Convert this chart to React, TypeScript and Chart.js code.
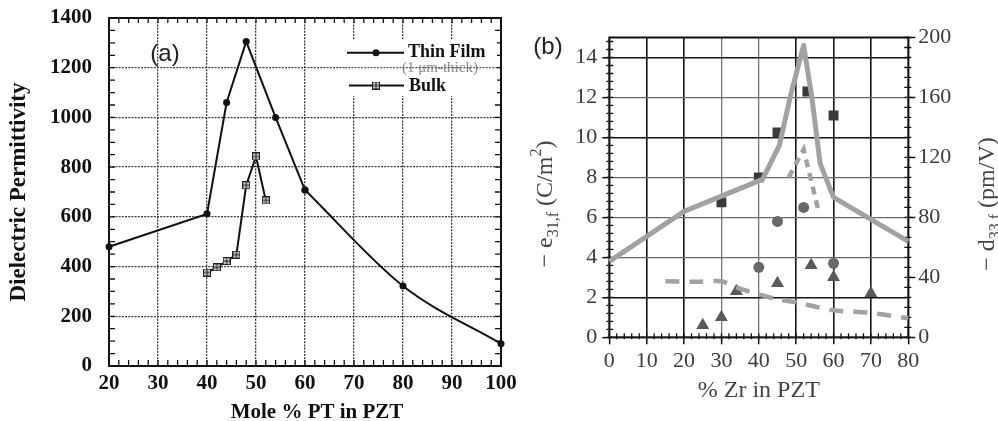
import React, { useEffect, useRef } from "react";
import { Chart, registerables } from "chart.js";
Chart.register(...registerables);

// ---------- Panel (a): Dielectric permittivity vs mole % PT ----------
const thinFilmX = [20, 40, 44, 48, 54, 60];
const thinFilmY = [480, 612, 1060, 1305, 1000, 708];
const thinFilmTailX = [60, 80, 100];
const thinFilmTailY = [708, 322, 90];
const bulkX = [40, 42, 44, 46, 48, 50, 52];
const bulkY = [376, 397, 422, 448, 727, 843, 666];

// ---------- Panel (b): piezo coefficients vs % Zr ----------
const zrSolidX = [0, 20, 41, 45.5, 48.5, 52, 54.2, 56.4, 60, 80];
const zrSolidY = [3.8, 6.3, 7.9, 9.6, 12.1, 14.6, 12.0, 8.7, 7.0, 4.8];
const zrDashUpX = [48, 52, 56];
const zrDashUpY = [8.0, 9.4, 6.3];
const zrDashLowX = [15, 24, 30, 34, 39, 45, 50, 60, 70, 80];
const zrDashLowY = [2.8, 2.78, 2.8, 2.5, 2.2, 1.9, 1.75, 1.35, 1.22, 0.95];
const squareX = [30, 40, 45, 53, 60];
const squareY = [6.75, 8.0, 10.25, 12.3, 11.1];
const circleX = [40, 45, 52, 60];
const circleY = [3.5, 5.8, 6.5, 3.7];
const triX = [25, 30, 34, 45, 54, 60, 70];
const triY = [0.6, 1.0, 2.3, 2.7, 3.6, 3.0, 2.2];

const pts = (xs: number[], ys: number[]) => xs.map((x, i) => ({ x, y: ys[i] }));

function makeBulkMarker() {
  const c = document.createElement("canvas");
  c.width = 8;
  c.height = 8;
  const g = c.getContext("2d")!;
  g.fillStyle = "#c4c4c4";
  g.fillRect(0.5, 0.5, 7, 7);
  g.strokeStyle = "#222";
  g.lineWidth = 1;
  g.strokeRect(0.5, 0.5, 7, 7);
  g.beginPath();
  g.moveTo(4, 0.5);
  g.lineTo(4, 7.5);
  g.moveTo(0.5, 4);
  g.lineTo(7.5, 4);
  g.stroke();
  return c;
}

function drawRich(ctx: CanvasRenderingContext2D, parts: any[], cx: number, cy: number, base: number, family: string, color: string) {
  ctx.save();
  ctx.translate(cx, cy);
  ctx.rotate(-Math.PI / 2);
  ctx.fillStyle = color;
  ctx.textBaseline = "alphabetic";
  ctx.textAlign = "left";
  let total = 0;
  for (const p of parts) {
    ctx.font = `${p.size}px ${family}`;
    total += ctx.measureText(p.text).width;
  }
  let x = -total / 2;
  const by = base * 0.33;
  for (const p of parts) {
    ctx.font = `${p.size}px ${family}`;
    ctx.fillText(p.text, x, by + (p.dy || 0));
    x += ctx.measureText(p.text).width;
  }
  ctx.restore();
}

export default function App() {
  const refA = useRef<HTMLCanvasElement>(null);
  const refB = useRef<HTMLCanvasElement>(null);

  useEffect(() => {
    document.body.style.margin = "0";
    document.body.style.overflow = "hidden";
    const marker = makeBulkMarker();

    const serifBold = (size: number, lh = 1.2) => ({ family: "'Liberation Serif', serif", weight: "bold" as const, size, lineHeight: lh });
    const serif = (size: number, lh = 1.2) => ({ family: "'Liberation Serif', serif", size, lineHeight: lh });
    const plain = (v: any) => String(v);

    const aPlugin = {
      id: "aDecor",
      beforeDatasetsDraw(chart: any) {
        const { ctx, chartArea: ca, scales } = chart;
        ctx.save();
        ctx.strokeStyle = "#111";
        ctx.lineWidth = 1.3;
        ctx.beginPath();
        for (let v = 0; v <= 1400; v += 50) {
          const y = scales.y.getPixelForValue(v);
          ctx.moveTo(ca.left, y);
          ctx.lineTo(ca.left + 6, y);
          ctx.moveTo(ca.right, y);
          ctx.lineTo(ca.right - 6, y);
        }
        for (let v = 20; v <= 100; v += 2) {
          const x = scales.x.getPixelForValue(v);
          ctx.moveTo(x, ca.bottom);
          ctx.lineTo(x, ca.bottom - 6);
          ctx.moveTo(x, ca.top);
          ctx.lineTo(x, ca.top + 5);
        }
        ctx.stroke();
        ctx.lineWidth = 2;
        ctx.strokeRect(ca.left, ca.top, ca.right - ca.left, ca.bottom - ca.top);
        ctx.restore();
      },
      afterDraw(chart: any) {
        const { ctx } = chart;
        ctx.save();
        ctx.fillStyle = "#ffffff";
        ctx.fillRect(345, 40, 152, 56);
        ctx.strokeStyle = "#111";
        ctx.fillStyle = "#111";
        ctx.lineWidth = 2;
        ctx.beginPath();
        ctx.moveTo(347, 52.7);
        ctx.lineTo(404, 52.7);
        ctx.moveTo(349, 85.5);
        ctx.lineTo(404, 85.5);
        ctx.stroke();
        ctx.beginPath();
        ctx.arc(376, 52.7, 3.5, 0, Math.PI * 2);
        ctx.fill();
        ctx.drawImage(marker, 376 - 4, 85.5 - 4);
        ctx.textBaseline = "middle";
        ctx.textAlign = "left";
        ctx.font = "bold 18px 'Liberation Serif', serif";
        ctx.fillText("Thin Film", 408, 52.5);
        ctx.fillText("Bulk", 409, 86);
        ctx.fillStyle = "#8a8a8a";
        ctx.font = "15px 'Liberation Serif', serif";
        ctx.fillText("(1 μm-thick)", 402, 68);
        ctx.strokeStyle = "#555";
        ctx.lineWidth = 1.3;
        ctx.setLineDash([2, 1.2]);
        ctx.beginPath();
        ctx.moveTo(345, 67.7);
        ctx.lineTo(497, 67.7);
        ctx.stroke();
        ctx.setLineDash([]);
        ctx.fillStyle = "#222";
        ctx.textAlign = "center";
        ctx.font = "24px 'Liberation Sans', sans-serif";
        ctx.fillText("(a)", 165, 54);
        // x-axis title (offset to the right as in the original)
        ctx.fillStyle = "#111";
        ctx.font = "bold 21px 'Liberation Serif', serif";
        ctx.fillText("Mole % PT in PZT", 317, 413);
        ctx.restore();
      },
    };

    const chartA = new Chart(refA.current!, {
      type: "scatter",
      data: {
        datasets: [
          {
            label: "Thin Film",
            data: pts(thinFilmX, thinFilmY),
            showLine: true,
            borderColor: "#111",
            backgroundColor: "#111",
            borderWidth: 2,
            pointRadius: 3.5,
            pointBorderWidth: 0,
            tension: 0,
            clip: false,
          },
          {
            label: "Thin Film tail",
            data: pts(thinFilmTailX, thinFilmTailY),
            showLine: true,
            borderColor: "#111",
            backgroundColor: "#111",
            borderWidth: 2,
            pointRadius: 3.5,
            pointBorderWidth: 0,
            cubicInterpolationMode: "monotone",
            clip: false,
          },
          {
            label: "Bulk",
            data: pts(bulkX, bulkY),
            showLine: true,
            borderColor: "#111",
            borderWidth: 2,
            pointStyle: marker as any,
            pointRadius: 4,
            tension: 0,
            clip: false,
          },
        ],
      } as any,
      options: {
        responsive: false,
        animation: false,
        layout: { padding: { left: 0, top: 18, right: 19, bottom: 0 } },
        plugins: { legend: { display: false }, tooltip: { enabled: false } },
        scales: {
          x: {
            type: "linear",
            min: 20,
            max: 100,
            afterFit(s: any) {
              s.height = 55;
              s.paddingLeft = 0;
              s.paddingRight = 0;
            },
            ticks: { stepSize: 10, padding: 5, color: "#111", font: serifBold(21), callback: plain },
            grid: { color: "#3a3a3a", lineWidth: 1.3, drawTicks: false },
            border: { display: false, dash: [2, 1.2] },
            title: { display: false },
          },
          y: {
            min: 0,
            max: 1400,
            afterFit(s: any) {
              s.width = 109;
              s.paddingTop = 0;
              s.paddingBottom = 0;
            },
            ticks: { stepSize: 200, padding: 17, color: "#111", font: serifBold(21), callback: plain },
            grid: { color: "#3a3a3a", lineWidth: 1.3, drawTicks: false },
            border: { display: false, dash: [2, 1.2] },
            title: { display: true, text: "Dielectric Permittivity", color: "#111", font: serifBold(23), padding: { top: 5.7, bottom: 0 } },
          },
        },
      } as any,
      plugins: [aPlugin],
    });

    const darkX = new Set([10, 20, 50, 60, 70]);
    const darkY = new Set([14, 10, 2]);
    const bPlugin = {
      id: "bDecor",
      beforeDatasetsDraw(chart: any) {
        const { ctx, chartArea: ca, scales } = chart;
        ctx.save();
        ctx.strokeStyle = "#111";
        ctx.lineWidth = 1.3;
        ctx.beginPath();
        for (let i = 0; i <= 37; i++) {
          const y = scales.y.getPixelForValue(i * 0.4);
          ctx.moveTo(ca.left - 3, y);
          ctx.lineTo(ca.left + 4, y);
        }
        for (let i = 0; i <= 30; i++) {
          const y = scales.y2.getPixelForValue((i * 40) / 6);
          if (y < ca.top) break;
          ctx.moveTo(ca.right + 3, y);
          ctx.lineTo(ca.right - 4, y);
        }
        for (let v = 0; v <= 80; v += 2) {
          const x = scales.x.getPixelForValue(v);
          ctx.moveTo(x, ca.bottom + 2);
          ctx.lineTo(x, ca.bottom - 4);
        }
        ctx.stroke();
        ctx.lineWidth = 2;
        ctx.strokeRect(ca.left, ca.top, ca.right - ca.left, ca.bottom - ca.top);
        ctx.restore();
      },
      afterDraw(chart: any) {
        const { ctx } = chart;
        const fam = "'Liberation Serif', serif";
        drawRich(
          ctx,
          [
            { text: "− e", size: 24 },
            { text: "31,f", size: 16, dy: 6 },
            { text: " (C/m", size: 24 },
            { text: "2", size: 16, dy: -11 },
            { text: ")", size: 24 },
          ],
          39,
          204,
          24,
          fam,
          "#444"
        );
        drawRich(
          ctx,
          [
            { text: "− d", size: 24 },
            { text: "33,f", size: 16, dy: 6 },
            { text: " (pm/V)", size: 24 },
          ],
          481,
          204,
          24,
          fam,
          "#444"
        );
        ctx.save();
        ctx.fillStyle = "#222";
        ctx.textAlign = "center";
        ctx.textBaseline = "middle";
        ctx.font = "24px 'Liberation Sans', sans-serif";
        ctx.fillText("(b)", 43, 47);
        ctx.restore();
      },
    };

    const lineGray = "#a2a2a2";
    const chartB = new Chart(refB.current!, {
      type: "scatter",
      data: {
        datasets: [
          {
            label: "solid",
            data: pts(zrSolidX, zrSolidY),
            showLine: true,
            borderColor: lineGray,
            borderWidth: 5,
            pointRadius: 0,
            tension: 0,
            borderJoinStyle: "round",
            clip: false,
          },
          {
            label: "dash upper",
            data: pts(zrDashUpX, zrDashUpY),
            showLine: true,
            borderColor: lineGray,
            borderWidth: 4.5,
            borderDash: [8, 6],
            pointRadius: 0,
            tension: 0,
            clip: false,
          },
          {
            label: "dash lower",
            data: pts(zrDashLowX, zrDashLowY),
            showLine: true,
            borderColor: lineGray,
            borderWidth: 4.5,
            borderDash: [14, 10],
            pointRadius: 0,
            tension: 0.3,
            clip: false,
          },
          {
            label: "squares",
            data: pts(squareX, squareY),
            pointStyle: "rect",
            pointRadius: 7,
            backgroundColor: "#3a3a3a",
            borderColor: "#3a3a3a",
            pointBorderWidth: 0,
          },
          {
            label: "circles",
            data: pts(circleX, circleY),
            pointStyle: "circle",
            pointRadius: 5.5,
            backgroundColor: "#686868",
            borderColor: "#686868",
            pointBorderWidth: 0,
          },
          {
            label: "triangles",
            data: pts(triX, triY),
            pointStyle: "triangle",
            pointRadius: 7.5,
            backgroundColor: "#5a5a5a",
            borderColor: "#5a5a5a",
            pointBorderWidth: 0,
          },
        ],
      } as any,
      options: {
        responsive: false,
        animation: false,
        layout: { padding: { left: 0, top: 37.5, right: 0, bottom: 0 } },
        plugins: { legend: { display: false }, tooltip: { enabled: false } },
        scales: {
          x: {
            type: "linear",
            min: 0,
            max: 80,
            afterFit(s: any) {
              s.height = 83.7;
              s.paddingLeft = 0;
              s.paddingRight = 0;
            },
            ticks: { stepSize: 10, padding: 4, color: "#3c3c3c", font: serif(22) },
            grid: {
              color: (c: any) => (darkX.has(c.tick?.value) ? "#151515" : "#777"),
              lineWidth: (c: any) => (darkX.has(c.tick?.value) ? 1.6 : 1.3),
              tickColor: "#111",
              tickLength: 7,
              tickWidth: 1.5,
            },
            border: { display: false },
            title: { display: true, text: "% Zr in PZT", color: "#444", font: serif(24), padding: { top: 0, bottom: 15.6 } },
          },
          y: {
            position: "left",
            min: 0,
            max: 15,
            afterFit(s: any) {
              s.width = 104.3;
              s.paddingTop = 0;
              s.paddingBottom = 0;
            },
            ticks: { stepSize: 2, includeBounds: false, padding: 5, color: "#3c3c3c", font: serif(22) },
            grid: {
              color: (c: any) => (darkY.has(c.tick?.value) ? "#151515" : "#6a6a6a"),
              lineWidth: (c: any) => (darkY.has(c.tick?.value) ? 1.6 : 1.3),
              tickColor: "#111",
              tickLength: 7,
              tickWidth: 1.5,
            },
            border: { display: false },
          },
          y2: {
            position: "right",
            min: 0,
            max: 200,
            afterFit(s: any) {
              s.width = 89.7;
              s.paddingTop = 0;
              s.paddingBottom = 0;
            },
            ticks: { stepSize: 40, padding: 3, color: "#3c3c3c", font: serif(22) },
            grid: { drawOnChartArea: false, tickColor: "#111", tickLength: 7, tickWidth: 1.5 },
            border: { display: false },
          },
        },
      } as any,
      plugins: [bPlugin],
    });

    return () => {
      chartA.destroy();
      chartB.destroy();
    };
  }, []);

  return (
    <div style={{ position: "relative", width: 998, height: 421, background: "#fff", overflow: "hidden" }}>
      <canvas ref={refA} width={520} height={421} style={{ position: "absolute", left: 0, top: 0, width: 520, height: 421 }} />
      <canvas ref={refB} width={493} height={421} style={{ position: "absolute", left: 505, top: 0, width: 493, height: 421 }} />
    </div>
  );
}
